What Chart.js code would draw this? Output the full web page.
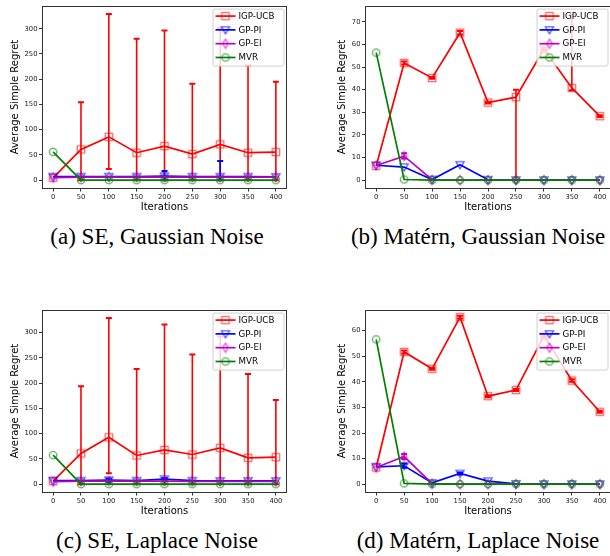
<!DOCTYPE html>
<html lang="en">
<head>
<meta charset="UTF-8">
<title>Average Simple Regret</title>
<script src="https://cdn.jsdelivr.net/npm/chart.js"></script>
<style>
    html, body { margin: 0; padding: 0; background: #fff; overflow: hidden; }
    #page { position: relative; width: 610px; height: 556px; overflow: hidden; }
    #page canvas { position: absolute; }
    .caption {
        position: absolute;
        font-family: "Liberation Serif", "Times New Roman", serif;
        font-size: 23px;
        line-height: 26px;
        color: #000;
        white-space: nowrap;
        transform: translateX(-50%);
    }
</style>
</head>
<body>
<div id="page">
    <canvas id="chartA" width="300" height="215" style="left:0;top:0"></canvas>
    <canvas id="chartB" width="310" height="215" style="left:305px;top:0"></canvas>
    <canvas id="chartC" width="300" height="215" style="left:0;top:304px"></canvas>
    <canvas id="chartD" width="310" height="215" style="left:305px;top:304px"></canvas>
    <div class="caption" style="left:157px;top:224px">(a) SE, Gaussian Noise</div>
    <div class="caption" style="left:478px;top:224px">(b) Matérn, Gaussian Noise</div>
    <div class="caption" style="left:157px;top:528px">(c) SE, Laplace Noise</div>
    <div class="caption" style="left:478px;top:528px">(d) Matérn, Laplace Noise</div>
</div>
<script>
const iterations = [0, 50, 100, 150, 200, 250, 300, 350, 400];
const xTicks = [0, 50, 100, 150, 200, 250, 300, 350, 400];
const seriesNames = ['IGP-UCB', 'GP-PI', 'GP-EI', 'MVR'];

// (a) SE kernel, Gaussian noise
const ucbA   = [4.7, 61, 85.8, 54.4, 67.5, 51.7, 71, 54.4, 55.7];
const ucbHiA = [null, 154.5, 329.4, 280.3, 296.7, 191.2, 302, 227, 195];
const ucbLoA = [null, 0, 22, 0, 0, 0, 0, 0, 0];
const piA    = [7, 7, 7, 7, 8, 7, 7, 7, 6.5];
const piHiA  = [null, null, null, null, 18, null, 38, null, null];
const piLoA  = [null, null, null, null, 0, null, 0, null, null];
const eiA    = [5, 6, 6, 6, 6, 6, 6, 6, 6];
const mvrA   = [56, 0, 0, 0, 0, 0, 0, 0, 0];
const yTicksA = [0, 50, 100, 150, 200, 250, 300];

// (b) Matern kernel, Gaussian noise
const ucbB   = [6.3, 51.8, 45.2, 65.2, 34.3, 36.7, 58, 40.8, 28.3];
const ucbHiB = [null, 52.5, 45.6, 66, 34.7, 40, 58.5, 73.3, 28.7];
const ucbLoB = [null, 51.1, 44.8, 64.4, 33.9, 0, 57.5, 39.8, 27.9];
const piB    = [6.6, 5.8, 0.3, 6.8, 0.2, 0, 0, 0, 0];
const eiB    = [6.5, 10.6, 0.2, 0, 0, 0, 0, 0, 0];
const eiHiB  = [null, 11.9, null, null, null, null, null, null, null];
const eiLoB  = [null, 9.6, null, null, null, null, null, null, null];
const mvrB   = [56.4, 0.3, 0, 0, 0, 0, 0, 0, 0];
const yTicksB = [0, 10, 20, 30, 40, 50, 60, 70];

// (c) SE kernel, Laplace noise
const ucbC   = [6, 60.7, 92.6, 56.8, 67.8, 58.7, 71.8, 52.2, 53.5];
const ucbHiC = [null, 193.7, 328.8, 227.7, 315.7, 256.4, 292, 217.9, 166.3];
const ucbLoC = [null, 0, 21.5, 0, 0, 0, 0, 0, 0];
const piC    = [7, 7, 8, 7, 10, 7, 6.5, 6.5, 6.5];
const piHiC  = [null, null, 11, null, 12, null, null, null, null];
const piLoC  = [null, null, 5, null, 8, null, null, null, null];
const eiC    = [5, 6, 6, 6, 6, 5.5, 5.5, 5.5, 5.5];
const mvrC   = [57.4, 0, 0, 0, 0, 0, 0, 0, 0];
const yTicksC = [0, 50, 100, 150, 200, 250, 300];

// (d) Matern kernel, Laplace noise
const ucbD   = [6.5, 51.7, 45.1, 65.3, 34.4, 36.8, 58, 40.5, 28.3];
const ucbHiD = [null, 52.3, 45.5, 65.8, 34.8, 37.2, 58.5, 41, 28.7];
const ucbLoD = [null, 51.1, 44.7, 64.8, 34, 36.4, 57.5, 40, 27.9];
const piD    = [6.8, 7.2, 0.5, 4.2, 1.2, 0.1, 0, 0, 0];
const piHiD  = [null, 8, null, 4.6, null, null, null, null, null];
const piLoD  = [null, 6.4, null, 3.8, null, null, null, null, null];
const eiD    = [6.5, 10.8, 0.2, 0, 0, 0, 0, 0, 0];
const eiHiD  = [null, 11.8, null, null, null, null, null, null, null];
const eiLoD  = [null, 9.8, null, null, null, null, null, null, null];
const mvrD   = [56.6, 0.3, 0, 0, 0, 0, 0, 0, 0];
const yTicksD = [0, 10, 20, 30, 40, 50, 60];

const TICK_FONT = { family: 'DejaVu Sans', size: 6.8 };
const LABEL_FONT = { family: 'DejaVu Sans', size: 10 };

// matplotlib-like open markers
function makeMarker(kind, color) {
    const c = document.createElement('canvas');
    c.width = 12; c.height = 12;
    const g = c.getContext('2d');
    const m = 6;
    g.strokeStyle = color;
    g.lineWidth = 1.3;
    g.beginPath();
    if (kind === 'square') {
        g.rect(m - 3.7, m - 3.7, 7.4, 7.4);
    } else if (kind === 'tri') {
        g.moveTo(m - 4.1, m - 3.2); g.lineTo(m + 4.1, m - 3.2); g.lineTo(m, m + 3.9); g.closePath();
    } else if (kind === 'diamond') {
        g.moveTo(m, m - 4.6); g.lineTo(m + 2.8, m); g.lineTo(m, m + 4.6); g.lineTo(m - 2.8, m); g.closePath();
    } else {
        g.arc(m, m, 3.7, 0, Math.PI * 2);
    }
    g.stroke();
    return c;
}

const styles = [
    { color: '#ff0000', marker: makeMarker('square', 'rgba(255,0,0,0.6)') },
    { color: '#0000ff', marker: makeMarker('tri', 'rgba(0,0,255,0.65)') },
    { color: '#bf00bf', marker: makeMarker('diamond', 'rgba(191,0,191,0.65)') },
    { color: '#008000', marker: makeMarker('circle', 'rgba(0,128,0,0.65)') }
];

function series(idx, values, hi, lo) {
    const st = styles[idx];
    return {
        label: seriesNames[idx],
        data: iterations.map((x, i) => ({ x: x, y: values[i] })),
        borderColor: st.color,
        borderWidth: 1.7,
        pointStyle: st.marker,
        pointRadius: 4,
        pointHoverRadius: 4,
        tension: 0,
        order: 4 - idx,
        errHi: hi || null,
        errLo: lo || null
    };
}

const errorBars = {
    id: 'errorBars',
    afterDatasetDraw(chart, args) {
        const ds = chart.data.datasets[args.index];
        if (!ds.errHi) return;
        const { ctx, chartArea, scales: { x, y } } = chart;
        ctx.save();
        ctx.beginPath();
        ctx.rect(chartArea.left, chartArea.top, chartArea.width, chartArea.height);
        ctx.clip();
        ctx.strokeStyle = ds.borderColor;
        ds.data.forEach((p, i) => {
            const hi = ds.errHi[i];
            const lo = ds.errLo[i];
            if (hi == null) return;
            const px = x.getPixelForValue(p.x);
            const top = y.getPixelForValue(hi);
            const bot = y.getPixelForValue(lo);
            ctx.lineWidth = 1.6;
            ctx.beginPath();
            ctx.moveTo(px, top); ctx.lineTo(px, bot);
            ctx.stroke();
            ctx.lineWidth = 2;
            ctx.beginPath();
            ctx.moveTo(px - 3, top); ctx.lineTo(px + 3, top);
            ctx.moveTo(px - 3, bot); ctx.lineTo(px + 3, bot);
            ctx.stroke();
        });
        ctx.restore();
    }
};

const frame = {
    id: 'frame',
    afterDatasetsDraw(chart) {
        const { ctx, chartArea: a } = chart;
        ctx.save();
        ctx.strokeStyle = '#333';
        ctx.lineWidth = 1;
        ctx.strokeRect(Math.round(a.left) + 0.5, Math.round(a.top) + 0.5,
            Math.round(a.width) - 1, Math.round(a.height) - 1);
        ctx.restore();
    }
};

// legend drawn inside the axes, upper right
const innerLegend = {
    id: 'innerLegend',
    afterDraw(chart) {
        const { ctx, chartArea } = chart;
        const w = 71, h = 57, rowH = 13.8;
        const left = chartArea.right - 3.5 - w;
        const top = chartArea.top + 3;
        ctx.save();
        ctx.beginPath();
        ctx.roundRect(left + 0.5, top + 0.5, w, h, 2);
        ctx.fillStyle = 'rgba(255,255,255,0.8)';
        ctx.fill();
        ctx.strokeStyle = '#d0d0d0';
        ctx.lineWidth = 1;
        ctx.stroke();
        ctx.font = '8.7px "DejaVu Sans"';
        ctx.textBaseline = 'middle';
        ctx.fillStyle = '#000';
        chart.data.datasets.forEach((ds, i) => {
            const cy = top + 7.5 + i * rowH;
            ctx.strokeStyle = ds.borderColor;
            ctx.lineWidth = 1.7;
            ctx.beginPath();
            ctx.moveTo(left + 3, cy); ctx.lineTo(left + 23, cy);
            ctx.stroke();
            const mk = ds.pointStyle;
            ctx.drawImage(mk, left + 13 - mk.width / 2, cy - mk.height / 2);
            ctx.fillText(ds.label, left + 26, cy + 0.5);
        });
        ctx.restore();
    }
};

function makePanel(id, datasets, yMin, yMax, yTicks, yAxisWidth, titlePad, padRight) {
    new Chart(document.getElementById(id), {
        type: 'line',
        data: { datasets: datasets },
        plugins: [errorBars, frame, innerLegend],
        options: {
            responsive: false,
            animation: false,
            events: [],
            layout: { autoPadding: false, padding: { top: 5, right: padRight, left: 0, bottom: 0 } },
            plugins: { legend: { display: false }, tooltip: { enabled: false } },
            scales: {
                x: {
                    type: 'linear',
                    min: -20, max: 420,
                    afterBuildTicks: s => { s.ticks = xTicks.map(v => ({ value: v })); },
                    afterFit: s => { s.height = 26.5; },
                    ticks: { font: TICK_FONT, color: '#222', padding: 1.5, maxRotation: 0, autoSkip: false },
                    grid: { drawOnChartArea: false, drawTicks: true, tickLength: 3, color: '#333' },
                    border: { display: false },
                    title: { display: true, text: 'Iterations', font: LABEL_FONT, color: '#000', padding: { top: 0, bottom: 2 } }
                },
                y: {
                    type: 'linear',
                    min: yMin, max: yMax,
                    afterBuildTicks: s => { s.ticks = yTicks.map(v => ({ value: v })); },
                    afterFit: s => { s.width = yAxisWidth; },
                    ticks: { font: TICK_FONT, color: '#222', padding: 1.5 },
                    grid: { drawOnChartArea: false, drawTicks: true, tickLength: 3, color: '#333' },
                    border: { display: false },
                    title: { display: true, text: 'Average Simple Regret', font: LABEL_FONT, color: '#000', padding: { top: titlePad, bottom: 0 } }
                }
            }
        }
    });
}

makePanel('chartA', [
    series(0, ucbA, ucbHiA, ucbLoA),
    series(1, piA, piHiA, piLoA),
    series(2, eiA),
    series(3, mvrA)
], -16.5, 345.9, yTicksA, 42, 9, 13);

makePanel('chartB', [
    series(0, ucbB, ucbHiB, ucbLoB),
    series(1, piB),
    series(2, eiB, eiHiB, eiLoB),
    series(3, mvrB)
], -3.68, 77.2, yTicksB, 60, 31, 4);

makePanel('chartC', [
    series(0, ucbC, ucbHiC, ucbLoC),
    series(1, piC, piHiC, piLoC),
    series(2, eiC),
    series(3, mvrC)
], -16.44, 345.3, yTicksC, 42, 9, 13);

makePanel('chartD', [
    series(0, ucbD, ucbHiD, ucbLoD),
    series(1, piD, piHiD, piLoD),
    series(2, eiD, eiHiD, eiLoD),
    series(3, mvrD)
], -3.25, 68.25, yTicksD, 60, 31, 4);
</script>
</body>
</html>
